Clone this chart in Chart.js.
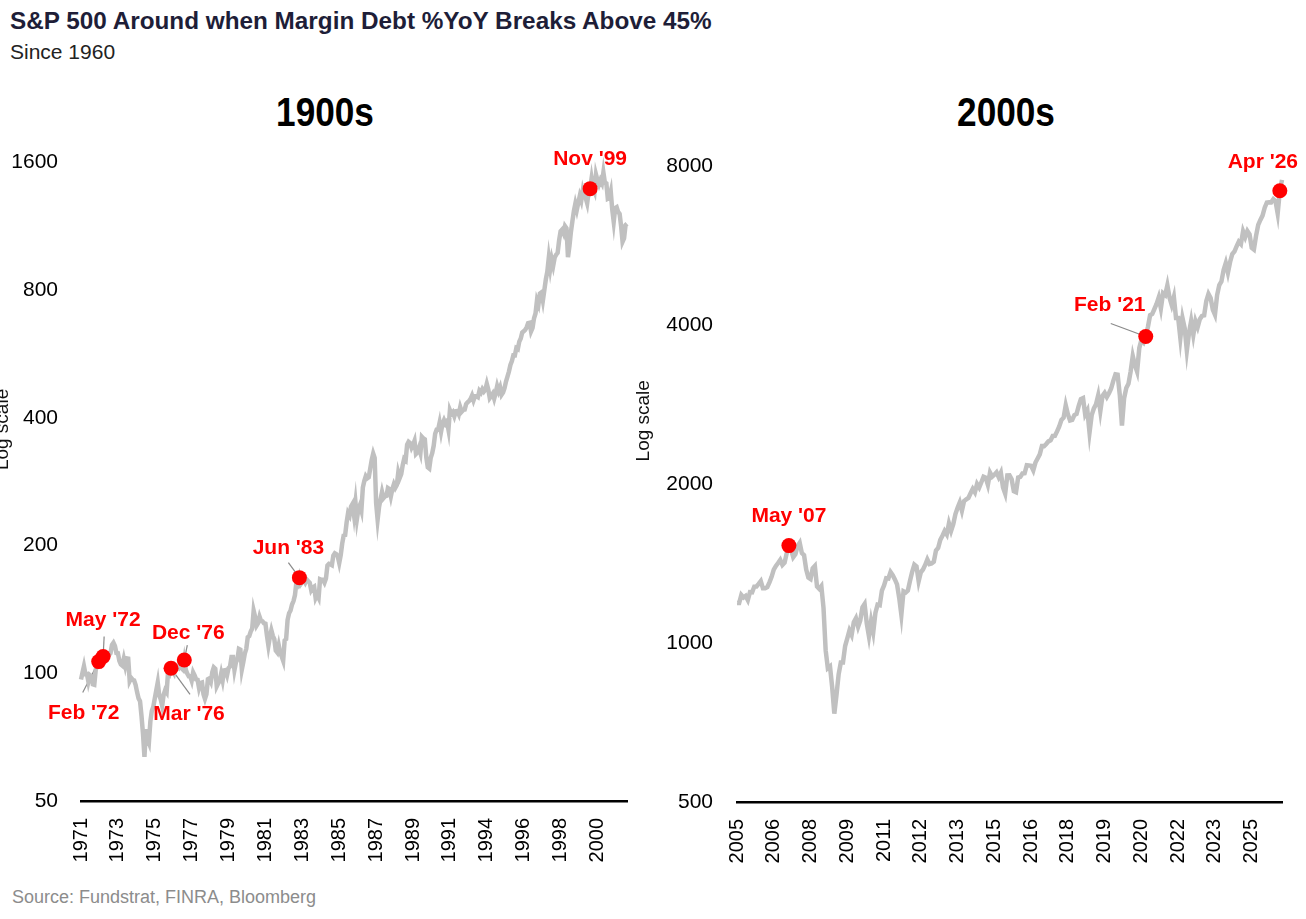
<!DOCTYPE html>
<html>
<head>
<meta charset="utf-8">
<script src="https://cdn.jsdelivr.net/npm/chart.js@4.4.1/dist/chart.umd.min.js"></script>
<style>
  body { margin: 0; width: 1306px; height: 919px; background: #fff; position: relative; overflow: hidden;
         font-family: 'Liberation Sans', Arial, sans-serif; }
  .txt { position: absolute; white-space: nowrap; line-height: 1; }
  #title { left: 10px; top: 9px; font-size: 24.3px; font-weight: bold; color: #1e1e38; }
  #subtitle { left: 10px; top: 41px; font-size: 21px; color: #222; }
  .panel { top: 92px; width: 300px; text-align: center; font-size: 40px; font-weight: bold; color: #000;
           transform: scaleX(0.88); }
  #source { left: 12px; top: 888px; font-size: 18px; color: #8c8c8c; }
  canvas { position: absolute; }
</style>
</head>
<body>
<div class="txt" id="title">S&amp;P 500 Around when Margin Debt %YoY Breaks Above 45%</div>
<div class="txt" id="subtitle">Since 1960</div>
<div class="txt panel" style="left:175px">1900s</div>
<div class="txt panel" style="left:856px">2000s</div>
<div class="txt" id="source">Source: Fundstrat, FINRA, Bloomberg</div>
<canvas id="left" width="649" height="744" style="left:-8px; top:127px"></canvas>
<canvas id="right" width="673" height="742" style="left:633px; top:130px"></canvas>

<script>
// S&P 500 monthly closes, Feb 1971 - Dec 2001
const leftStart = [1971, 1]
const leftValues = [
  96.75, 100.31, 103.95, 99.63, 99.70, 95.58, 99.03, 98.34, 94.23, 93.99, 102.09,
  103.94, 106.57, 107.20, 107.67, 109.53, 107.14, 107.39, 111.09, 110.55, 111.58, 116.67, 118.05,
  116.03, 111.68, 111.52, 106.97, 104.95, 104.26, 108.22, 104.25, 108.43, 108.29, 95.96, 97.55,
  96.57, 96.22, 93.98, 90.31, 87.28, 86.00, 79.31, 72.15, 63.54, 73.90, 69.97, 68.56,
  76.98, 81.59, 83.36, 87.30, 91.15, 95.19, 88.75, 86.88, 83.87, 89.04, 91.24, 90.19,
  100.86, 99.71, 102.77, 101.64, 100.18, 104.28, 103.44, 102.91, 105.24, 102.90, 102.10, 107.46,
  102.03, 99.82, 98.42, 98.44, 96.12, 100.48, 98.85, 96.77, 96.53, 92.34, 94.83, 95.10,
  89.25, 87.04, 89.21, 96.83, 97.24, 95.53, 100.68, 103.29, 102.54, 93.15, 94.70, 96.11,
  99.93, 96.28, 101.59, 101.76, 99.08, 102.91, 103.81, 109.32, 109.32, 101.82, 106.16, 107.94,
  114.16, 113.66, 102.09, 106.29, 111.24, 114.24, 121.67, 122.38, 125.46, 127.47, 140.52, 135.76,
  129.55, 131.27, 136.00, 132.81, 132.59, 131.21, 130.92, 122.79, 116.18, 121.89, 126.35, 122.55,
  120.40, 113.11, 111.96, 116.44, 111.88, 109.61, 107.09, 119.51, 120.42, 133.71, 138.54, 140.64,
  145.30, 148.06, 152.96, 164.42, 162.39, 168.11, 162.56, 164.40, 166.07, 163.55, 166.40, 164.93,
  163.41, 157.06, 159.18, 160.05, 150.55, 153.18, 150.66, 166.68, 166.10, 166.09, 163.58, 167.24,
  179.63, 181.18, 180.66, 179.83, 189.55, 191.85, 190.92, 188.63, 182.08, 189.82, 202.17, 211.28,
  211.78, 226.92, 238.90, 235.52, 247.35, 250.84, 236.12, 252.93, 231.32, 243.98, 249.22, 242.17,
  274.08, 284.20, 291.70, 288.36, 290.10, 304.00, 318.66, 329.80, 321.83, 251.79, 230.30, 247.08,
  257.07, 267.82, 258.89, 261.33, 262.16, 273.50, 272.02, 261.52, 271.91, 278.97, 273.70, 277.72,
  297.47, 288.86, 294.87, 309.64, 320.52, 317.98, 346.08, 351.45, 349.15, 340.36, 345.99, 353.40,
  329.08, 331.89, 339.94, 330.80, 361.23, 358.02, 356.15, 322.56, 306.05, 304.00, 322.22, 330.22,
  343.93, 367.07, 375.22, 375.35, 389.83, 371.16, 387.81, 395.43, 387.86, 392.46, 375.22, 417.09,
  408.79, 412.70, 403.69, 414.95, 415.35, 408.14, 424.21, 414.03, 417.80, 418.68, 431.35, 435.71,
  438.78, 443.38, 451.67, 440.19, 450.19, 450.53, 448.13, 463.56, 458.93, 467.83, 461.79, 466.45,
  481.61, 467.14, 445.77, 450.91, 456.50, 444.27, 458.26, 475.49, 462.69, 472.35, 453.69, 459.27,
  470.42, 487.39, 500.71, 514.71, 533.40, 544.75, 562.06, 561.88, 584.41, 581.50, 605.37, 615.93,
  636.02, 640.43, 645.50, 654.17, 669.12, 670.63, 639.95, 651.99, 687.33, 705.27, 757.02, 740.74,
  786.16, 790.82, 757.12, 801.34, 848.28, 885.14, 954.31, 899.47, 947.28, 914.62, 955.40, 970.43,
  980.28, 1049.34, 1101.75, 1111.75, 1090.82, 1133.84, 1120.67, 957.28, 1017.01, 1098.67, 1163.63, 1229.23,
  1279.64, 1238.33, 1286.37, 1335.18, 1301.84, 1372.71, 1328.72, 1320.41, 1282.71, 1362.93, 1388.91, 1469.25,
  1394.46, 1366.42, 1498.58, 1452.43, 1420.60, 1454.60, 1430.83, 1517.68, 1436.51, 1429.40, 1314.95, 1320.28,
  1366.01, 1239.94, 1160.33, 1249.46, 1255.82, 1224.38, 1211.23, 1133.58, 1040.94, 1059.78, 1139.45, 1148.08
]
const leftYTicks = [50, 100, 200, 400, 800, 1600]
const leftMarkMonths = ["Feb 1972", "May 1972", "Mar 1976", "Dec 1976", "Jun 1983", "Nov 1999"]
const leftMarkText = ["Feb '72", "May '72", "Mar '76", "Dec '76", "Jun '83", "Nov '99"]

// S&P 500 monthly closes, May 2005 - May 2026
const rightStart = [2005, 4]
const rightValues = [
  1191.50, 1191.33, 1234.18, 1220.33, 1228.81, 1207.01, 1249.48, 1248.29,
  1280.08, 1280.66, 1294.87, 1310.61, 1270.09, 1270.20, 1276.66, 1303.82, 1335.85, 1377.94, 1400.63, 1418.30,
  1438.24, 1406.82, 1420.86, 1482.37, 1530.62, 1503.35, 1455.27, 1473.99, 1526.75, 1549.38, 1481.14, 1468.36,
  1378.55, 1330.63, 1322.70, 1385.59, 1400.38, 1280.00, 1267.38, 1282.83, 1166.36, 968.75, 896.24, 903.25,
  825.88, 735.09, 797.87, 872.81, 919.14, 919.32, 987.48, 1020.62, 1057.08, 1036.19, 1095.63, 1115.10,
  1073.87, 1104.49, 1169.43, 1186.69, 1089.41, 1030.71, 1101.60, 1049.33, 1141.20, 1183.26, 1180.55, 1257.64,
  1286.12, 1327.22, 1325.83, 1363.61, 1345.20, 1320.64, 1292.28, 1218.89, 1131.42, 1253.30, 1246.96, 1257.60,
  1312.41, 1365.68, 1408.47, 1397.91, 1310.33, 1362.16, 1379.32, 1406.58, 1440.67, 1412.16, 1416.18, 1426.19,
  1498.11, 1514.68, 1569.19, 1597.57, 1630.74, 1606.28, 1685.73, 1632.97, 1681.55, 1756.54, 1805.81, 1848.36,
  1782.59, 1859.45, 1872.34, 1883.95, 1923.57, 1960.23, 1930.67, 2003.37, 1972.29, 2018.05, 2067.56, 2058.90,
  1994.99, 2104.50, 2067.89, 2085.51, 2107.39, 2063.11, 2103.84, 1972.18, 1920.03, 2079.36, 2080.41, 2043.94,
  1940.24, 1932.23, 2059.74, 2065.30, 2096.95, 2098.86, 2173.60, 2170.95, 2168.27, 2126.15, 2198.81, 2238.83,
  2278.87, 2363.64, 2362.72, 2384.20, 2411.80, 2423.41, 2470.30, 2471.65, 2519.36, 2575.26, 2647.58, 2673.61,
  2823.81, 2713.83, 2640.87, 2648.05, 2705.27, 2718.37, 2816.29, 2901.52, 2913.98, 2711.74, 2760.17, 2506.85,
  2704.10, 2784.49, 2834.40, 2945.83, 2752.06, 2941.76, 2980.38, 2926.46, 2976.74, 3037.56, 3140.98, 3230.78,
  3225.52, 2954.22, 2584.59, 2912.43, 3044.31, 3100.29, 3271.12, 3500.31, 3363.00, 3269.96, 3621.63, 3756.07,
  3714.24, 3811.15, 3972.89, 4181.17, 4204.11, 4297.50, 4395.26, 4522.68, 4307.54, 4605.38, 4567.00, 4766.18,
  4515.55, 4373.94, 4530.41, 4131.93, 4132.15, 3785.38, 4130.29, 3955.00, 3585.62, 3871.98, 4080.11, 3839.50,
  4076.60, 3970.15, 4109.31, 4169.48, 4179.83, 4450.38, 4588.96, 4507.66, 4288.05, 4193.80, 4567.80, 4769.83,
  4845.65, 5096.27, 5254.35, 5035.69, 5277.51, 5460.48, 5522.30, 5648.40, 5762.48, 5705.45, 6032.38, 5881.63,
  6040.53, 5954.50, 5611.85, 5569.06, 5911.69, 6204.95, 6339.39, 6460.26, 6688.46, 6840.20, 6849.09, 6845.50,
  6939.00, 6880.00, 6520.00, 7200.00, 7550.00
]
const rightYTicks = [500, 1000, 2000, 4000, 8000]
const rightMarkMonths = ["May 2007", "Feb 2021", "Apr 2026"]
const rightMarkText = ["May '07", "Feb '21", "Apr '26"]

const MONTHS = ["Jan", "Feb", "Mar", "Apr", "May", "Jun", "Jul", "Aug", "Sep", "Oct", "Nov", "Dec"]

function monthLabels(start, count) {
  const out = []
  for (let i = 0; i < count; i++) {
    const m = start[1] + i
    out.push(MONTHS[m % 12] + " " + (start[0] + Math.floor(m / 12)))
  }
  return out
}

Chart.defaults.font.family = "'Liberation Sans', Arial, sans-serif"
Chart.defaults.color = "#000"

const callouts = {
  id: "callouts",
  beforeDatasetsDraw(chart, args, opts) {
    const ctx = chart.ctx
    const pts = markPixels(chart, opts)
    ctx.save()
    ctx.strokeStyle = "#8a8a8a"
    ctx.lineWidth = 1.2
    opts.items.forEach((it, i) => {
      if (!it.line) return
      ctx.beginPath()
      ctx.moveTo(pts[i].x + it.line[0], pts[i].y + it.line[1])
      ctx.lineTo(pts[i].x, pts[i].y)
      ctx.stroke()
    })
    ctx.restore()
  },
  afterDatasetsDraw(chart, args, opts) {
    const ctx = chart.ctx
    const pts = markPixels(chart, opts)
    ctx.save()
    ctx.fillStyle = "#ff0000"
    ctx.font = "bold 21px 'Liberation Sans', Arial, sans-serif"
    ctx.textAlign = "center"
    ctx.textBaseline = "middle"
    opts.items.forEach((it, i) => {
      ctx.fillText(opts.text[i], pts[i].x + it.dx, pts[i].y + it.dy)
    })
    ctx.restore()
  },
  afterDraw(chart, args, opts) {
    // axis title sits above the middle of the axis, so it is drawn here
    const ctx = chart.ctx
    const area = chart.chartArea
    ctx.save()
    ctx.translate(chart.scales.y.left + 11, area.top + (area.bottom - area.top) * opts.titleAt)
    ctx.rotate(-Math.PI / 2)
    ctx.fillStyle = "#111"
    ctx.font = "19px 'Liberation Sans', Arial, sans-serif"
    ctx.textAlign = "center"
    ctx.textBaseline = "middle"
    ctx.fillText("Log scale", 0, 0)
    ctx.restore()
  }
}

function markPixels(chart, opts) {
  const labels = chart.data.labels
  const values = chart.data.datasets[1].data
  return opts.months.map(m => {
    const i = labels.indexOf(m)
    return { x: chart.scales.x.getPixelForValue(i), y: chart.scales.y.getPixelForValue(values[i]) }
  })
}

function makeChart(id, cfg) {
  const labels = monthLabels(cfg.start, cfg.values.length)
  const dots = labels.map((l, i) => cfg.marks.includes(l) ? cfg.values[i] : null)

  new Chart(document.getElementById(id), {
    type: "line",
    data: {
      labels: labels,
      datasets: [
        {
          data: dots,
          showLine: false,
          pointRadius: 7.5,
          pointHoverRadius: 7.5,
          pointBackgroundColor: "#ff0000",
          pointBorderWidth: 0,
          clip: false
        },
        {
          data: cfg.values,
          borderColor: "#c0c0c0",
          borderWidth: 4.5,
          pointRadius: 0,
          tension: 0,
          clip: false
        }
      ]
    },
    options: {
      responsive: false,
      animation: false,
      events: [],
      layout: { padding: { top: 0, right: cfg.padRight, left: 0, bottom: 0 } },
      plugins: {
        legend: { display: false },
        tooltip: { enabled: false },
        callouts: { months: cfg.marks, text: cfg.markText, items: cfg.items, titleAt: cfg.titleAt }
      },
      scales: {
        x: {
          type: "category",
          offset: false,
          grid: { display: false, drawTicks: false },
          border: { display: true, color: "#000", width: 2.5 },
          ticks: {
            autoSkip: false,
            minRotation: 90,
            maxRotation: 90,
            padding: 17,
            font: { size: 20 },
            callback: function (v, i) {
              return i % cfg.every === 0 ? this.getLabelForValue(v).slice(-4) : null
            }
          },
          afterFit: s => { s.height = 70 }
        },
        y: {
          type: "logarithmic",
          min: cfg.yTicks[0],
          max: cfg.yTicks[cfg.yTicks.length - 1],
          grid: { display: false, drawTicks: false },
          border: { display: false },
          ticks: { padding: cfg.tickPad, font: { size: 21 }, callback: v => String(v) },
          afterBuildTicks: s => { s.ticks = cfg.yTicks.map(v => ({ value: v })) },
          afterFit: s => { s.width = cfg.axisWidth }
        }
      }
    },
    plugins: [callouts]
  })
}

makeChart("left", {
  start: leftStart,
  values: leftValues,
  yTicks: leftYTicks,
  marks: leftMarkMonths,
  markText: leftMarkText,
  every: 25,
  axisWidth: 89,
  tickPad: 23,
  padRight: 14,
  titleAt: 0.418,
  items: [
    { dx: -15, dy: 52, line: [-16, 31] },
    { dx: 0, dy: -36, line: [1, -20] },
    { dx: 18, dy: 46, line: [19, 26] },
    { dx: 4, dy: -27, line: [3, -15] },
    { dx: -11, dy: -29, line: [-11, -15] },
    { dx: 0, dy: -29 }
  ]
})

makeChart("right", {
  start: rightStart,
  values: rightValues,
  yTicks: rightYTicks,
  marks: rightMarkMonths,
  markText: rightMarkText,
  every: 17,
  axisWidth: 104,
  tickPad: 24,
  padRight: 24,
  titleAt: 0.40,
  items: [
    { dx: 0, dy: -29 },
    { dx: -36, dy: -31, line: [-35, -13] },
    { dx: -17, dy: -29 }
  ]
})
</script>
</body>
</html>
